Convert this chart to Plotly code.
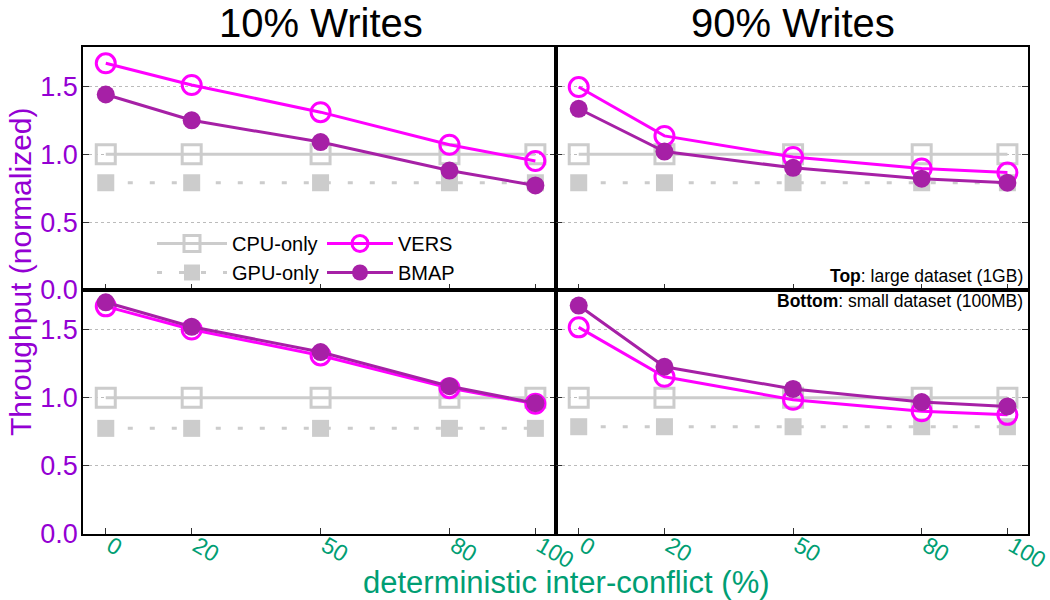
import plotly.graph_objects as go

conflict = [0, 20, 50, 80, 100]
x_ticks = [0, 20, 50, 80, 100]
y_ticks = [0.0, 0.5, 1.0, 1.5]

# Top: large dataset (1GB); Bottom: small dataset (100MB)
cpu_top_10 = [1.0, 1.0, 1.0, 1.0, 1.0]
gpu_top_10 = [0.79, 0.79, 0.79, 0.79, 0.79]
vers_top_10 = [1.67, 1.51, 1.31, 1.07, 0.95]
bmap_top_10 = [1.44, 1.25, 1.09, 0.88, 0.77]

cpu_top_90 = [1.0, 1.0, 1.0, 1.0, 1.0]
gpu_top_90 = [0.79, 0.79, 0.79, 0.79, 0.79]
vers_top_90 = [1.495, 1.135, 0.98, 0.895, 0.865]
bmap_top_90 = [1.335, 1.02, 0.90, 0.82, 0.79]

cpu_bot_10 = [1.0, 1.0, 1.0, 1.0, 1.0]
gpu_bot_10 = [0.775, 0.775, 0.775, 0.775, 0.775]
vers_bot_10 = [1.67, 1.50, 1.31, 1.07, 0.955]
bmap_bot_10 = [1.70, 1.52, 1.335, 1.084, 0.96]

cpu_bot_90 = [1.0, 1.0, 1.0, 1.0, 1.0]
gpu_bot_90 = [0.787, 0.787, 0.787, 0.787, 0.787]
vers_bot_90 = [1.516, 1.153, 0.985, 0.90, 0.874]
bmap_bot_90 = [1.676, 1.227, 1.064, 0.968, 0.936]

W, H = 1050, 600
FONT = "Liberation Sans, Arial, sans-serif"
PURPLE = "#9400D3"
GREEN = "#009E73"
GRAY = "#CCCCCC"
MAGENTA = "#FF00FF"
BMAPC = "#A620A6"

fig = go.Figure()

panels = [
    ("x", "y", cpu_top_10, gpu_top_10, vers_top_10, bmap_top_10, True),
    ("x2", "y2", cpu_top_90, gpu_top_90, vers_top_90, bmap_top_90, False),
    ("x3", "y3", cpu_bot_10, gpu_bot_10, vers_bot_10, bmap_bot_10, False),
    ("x4", "y4", cpu_bot_90, gpu_bot_90, vers_bot_90, bmap_bot_90, False),
]

for xa, ya, cpu, gpu, vers, bmap, show in panels:
    fig.add_trace(go.Scatter(x=conflict, y=cpu, xaxis=xa, yaxis=ya, name="CPU-only",
                             mode="lines+markers", showlegend=show, legend="legend",
                             line=dict(color=GRAY, width=3),
                             marker=dict(symbol="square-open", size=19, color=GRAY,
                                         line=dict(color=GRAY, width=3))))
    fig.add_trace(go.Scatter(x=conflict, y=gpu, xaxis=xa, yaxis=ya, name="GPU-only",
                             mode="lines+markers", showlegend=show, legend="legend",
                             line=dict(color=GRAY, width=3, dash="5px,17px"),
                             marker=dict(symbol="square", size=17, color=GRAY)))
    fig.add_trace(go.Scatter(x=conflict, y=vers, xaxis=xa, yaxis=ya, name="VERS",
                             mode="lines+markers", showlegend=show, legend="legend2",
                             line=dict(color=MAGENTA, width=3),
                             marker=dict(symbol="circle-open", size=19, color=MAGENTA,
                                         line=dict(color=MAGENTA, width=3))))
    fig.add_trace(go.Scatter(x=conflict, y=bmap, xaxis=xa, yaxis=ya, name="BMAP",
                             mode="lines+markers", showlegend=show, legend="legend2",
                             line=dict(color=BMAPC, width=3),
                             marker=dict(symbol="circle", size=18, color=BMAPC)))

xl = [83 / W, 556 / W]
xr = [556 / W, 1028 / W]
yb = [(H - 534) / H, (H - 290) / H]
yt = [(H - 290) / H, (H - 47) / H]

def xaxis(domain, anchor, labels):
    return dict(domain=domain, anchor=anchor, range=[-5.3, 104.8], tickvals=x_ticks,
                showticklabels=labels, ticks="inside", ticklen=6, tickcolor="#333",
                tickangle=30, tickfont=dict(family=FONT, size=23, color=GREEN),
                ticklabelstandoff=-12, ticklabelshift=5, ticklabeloverflow="allow",
                showline=True, linecolor="black", linewidth=1.5, mirror=True,
                showgrid=False, zeroline=False)

def yaxis(domain, anchor, labels):
    return dict(domain=domain, anchor=anchor, range=[0, 1.79], tickvals=y_ticks,
                tickformat=".1f", showticklabels=labels, ticks="inside", ticklen=6,
                tickcolor="#333", tickfont=dict(family=FONT, size=27, color=PURPLE),
                ticklabelstandoff=-2,
                showline=True, linecolor="black", linewidth=1.5, mirror="ticks",
                showgrid=True, gridcolor="#BBBBBB", griddash="dot", gridwidth=1,
                zeroline=False)

fig.update_layout(
    width=W, height=H,
    margin=dict(l=0, r=0, t=0, b=0, autoexpand=False),
    paper_bgcolor="white", plot_bgcolor="white",
    font=dict(family=FONT),
    xaxis=xaxis(xl, "y", False),
    yaxis=yaxis(yt, "x", True),
    xaxis2=xaxis(xr, "y2", False),
    yaxis2=yaxis(yt, "x2", False),
    xaxis3=xaxis(xl, "y3", True),
    yaxis3=yaxis(yb, "x3", True),
    xaxis4=xaxis(xr, "y4", True),
    yaxis4=yaxis(yb, "x4", False),
    legend=dict(x=152 / W, y=(H - 224) / H, xanchor="left", yanchor="top",
                bgcolor="rgba(0,0,0,0)", font=dict(family=FONT, size=20, color="black"),
                tracegroupgap=0, itemwidth=70),
    legend2=dict(x=322 / W, y=(H - 224) / H, xanchor="left", yanchor="top",
                 bgcolor="rgba(0,0,0,0)", font=dict(family=FONT, size=20, color="black"),
                 tracegroupgap=0, itemwidth=66),
    annotations=[
        dict(text="10% Writes", x=321 / W, y=(H - 23) / H, xref="paper", yref="paper",
             showarrow=False, font=dict(family=FONT, size=40, color="black"),
             xanchor="center", yanchor="middle", borderpad=0),
        dict(text="90% Writes", x=793 / W, y=(H - 23) / H, xref="paper", yref="paper",
             showarrow=False, font=dict(family=FONT, size=40, color="black"),
             xanchor="center", yanchor="middle", borderpad=0),
        dict(text="Throughput (normalized)", x=20 / W, y=(H - 272) / H, xref="paper", yref="paper",
             showarrow=False, textangle=-90, font=dict(family=FONT, size=30, color=PURPLE),
             xanchor="center", yanchor="middle"),
        dict(text="deterministic inter-conflict (%)", x=566 / W, y=(H - 582) / H,
             xref="paper", yref="paper", showarrow=False,
             font=dict(family=FONT, size=31, color=GREEN), xanchor="center", yanchor="middle"),
        dict(text="<b>Top</b>: large dataset (1GB)", x=1025 / W, y=(H - 276) / H,
             xref="paper", yref="paper", showarrow=False,
             font=dict(family=FONT, size=17.5, color="black"), xanchor="right", yanchor="middle"),
        dict(text="<b>Bottom</b>: small dataset (100MB)", x=1025 / W, y=(H - 301) / H,
             xref="paper", yref="paper", showarrow=False,
             font=dict(family=FONT, size=17.5, color="black"), xanchor="right", yanchor="middle"),
    ],
)

fig.write_html("out.html")
